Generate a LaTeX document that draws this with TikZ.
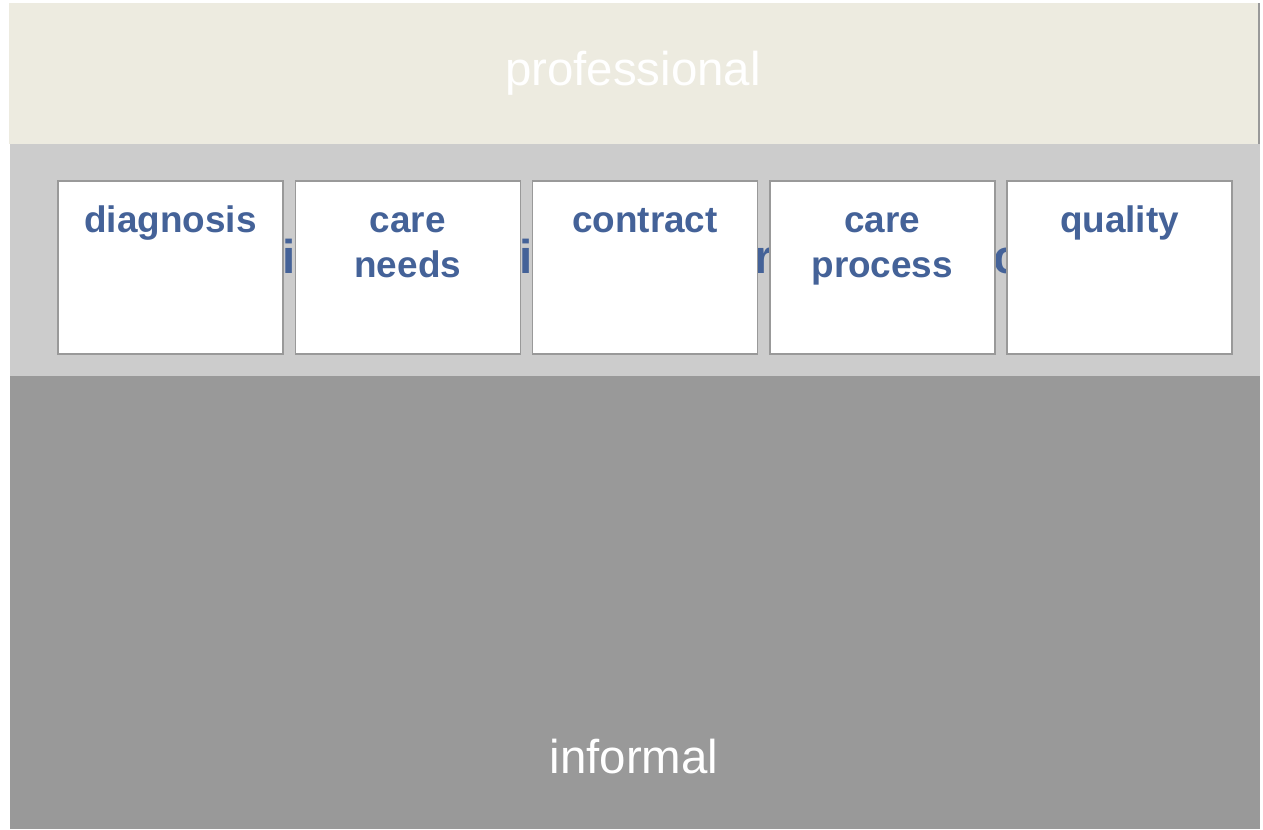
\documentclass[tikz,border=0pt]{standalone}
\usepackage{fontspec}
\setmainfont{Liberation Sans}
\usetikzlibrary{positioning}
\definecolor{bandtop}{RGB}{237,235,224}
\definecolor{bandmid}{RGB}{204,204,204}
\definecolor{bandlow}{RGB}{153,153,153}
\definecolor{cardline}{RGB}{153,153,153}
\definecolor{cardblue}{RGB}{68,98,152}

\begin{document}
\begin{tikzpicture}[x=0.2mm,y=0.2mm]
\tikzstyle{every node}+=[inner sep=0pt]
\tikzstyle{card}=[draw=cardline, line width=0.3mm, fill=white, minimum width=45mm, minimum height=34.6mm, outer sep=0pt]
\tikzstyle{cardtext}=[text=cardblue, font=\fontsize{21}{25.5}\selectfont\bfseries, align=center, anchor=north]
\tikzstyle{hidtext}=[text=cardblue, font=\fontsize{27}{32}\selectfont\bfseries, anchor=base]
\tikzstyle{bandtext}=[text=white, font=\fontsize{27}{32}\selectfont, anchor=base]
\useasboundingbox (0,0) rectangle (1263,-829);
% bands
\fill [bandlow] (10,-3) rectangle (1260,-829);
\fill [bandtop] (9,-3) rectangle (1258,-144);
\fill [bandmid] (10,-144) rectangle (1259.5,-376);
\node [bandtext] (prof) at (633,-85) {professional};
\node [bandtext] (inf) at (634,-773) {informal};
% letters showing between the cards
\node [hidtext] (gapa) at (289.5,-273) {i};
\node [hidtext] (gapb) at (526,-273) {i};
\node [hidtext, anchor=base west] (gapc) at (754.5,-273) {r};
\node [hidtext, anchor=base west] (gapd) at (993,-273) {c};
% cards
\node [card] (diag) at (170.5,-267.5) {};
\node [card, right=2.45mm of diag] (needs) {};
\node [card, right=2.45mm of needs] (contr) {};
\node [card, right=2.45mm of contr] (proc) {};
\node [card, right=2.45mm of proc] (qual) {};
\node [cardtext] (diagt) at ([yshift=-3.9mm]diag.north) {\strut diagnosis};
\node [cardtext] (needst) at ([yshift=-3.9mm]needs.north) {\strut care\\needs};
\node [cardtext] (contrt) at ([yshift=-3.9mm]contr.north) {\strut contract};
\node [cardtext] (proct) at ([yshift=-3.9mm]proc.north) {\strut care\\process};
\node [cardtext] (qualt) at ([yshift=-3.9mm]qual.north) {\strut quality};
\end{tikzpicture}
\end{document}
